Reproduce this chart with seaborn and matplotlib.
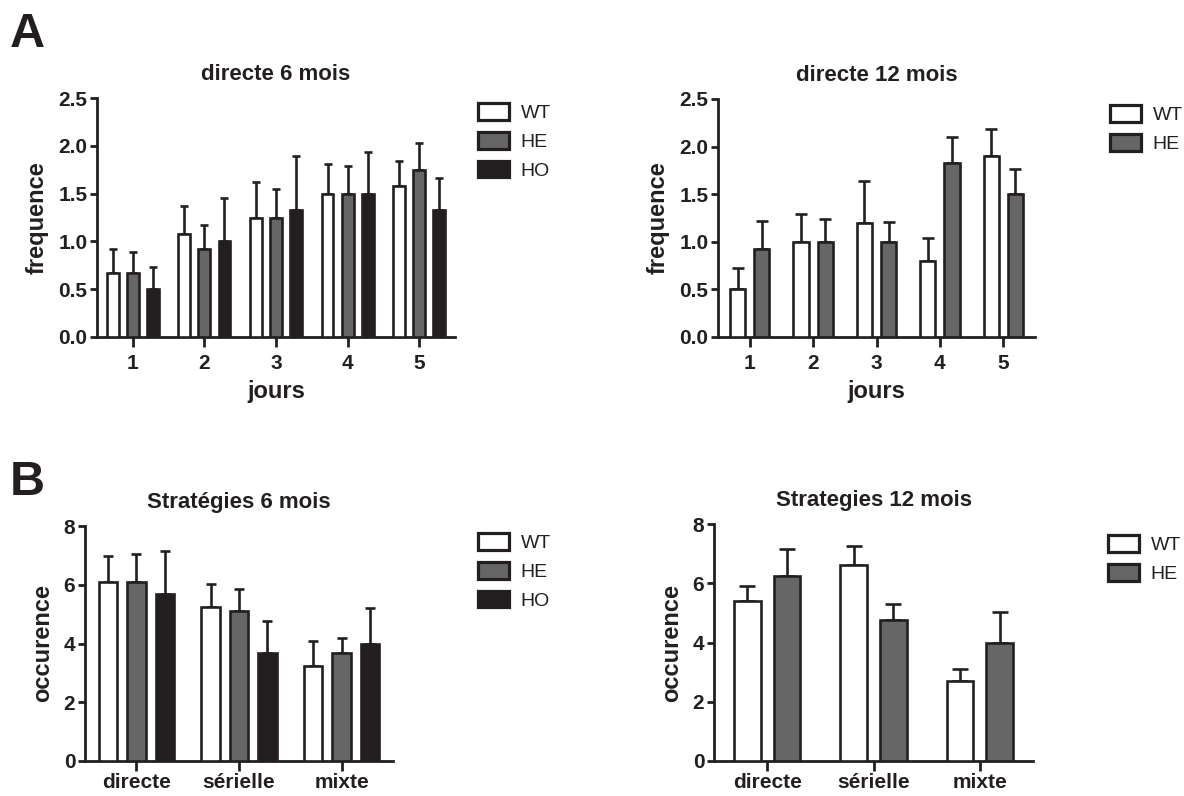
import numpy as np
import pandas as pd
import matplotlib
matplotlib.use("Agg")
import matplotlib.pyplot as plt
from matplotlib.patches import Patch
import seaborn as sns

# =============================================================================
# DATA (means and upper SEM)
# =============================================================================

DAYS = ['1', '2', '3', '4', '5']
STRATS = ['directe', 'sérielle', 'mixte']

A6_WT = [0.67, 1.08, 1.25, 1.50, 1.58]
A6_WT_ERR = [0.25, 0.29, 0.37, 0.31, 0.26]
A6_HE = [0.67, 0.92, 1.25, 1.50, 1.75]
A6_HE_ERR = [0.22, 0.25, 0.30, 0.29, 0.28]
A6_HO = [0.50, 1.00, 1.33, 1.50, 1.33]
A6_HO_ERR = [0.23, 0.45, 0.56, 0.43, 0.33]

A12_WT = [0.50, 1.00, 1.20, 0.80, 1.90]
A12_WT_ERR = [0.22, 0.29, 0.44, 0.24, 0.28]
A12_HE = [0.92, 1.00, 1.00, 1.83, 1.50]
A12_HE_ERR = [0.30, 0.24, 0.21, 0.27, 0.26]

B6_WT = [6.10, 5.25, 3.25]
B6_WT_ERR = [0.87, 0.79, 0.82]
B6_HE = [6.10, 5.10, 3.67]
B6_HE_ERR = [0.96, 0.77, 0.52]
B6_HO = [5.67, 3.67, 4.00]
B6_HO_ERR = [1.48, 1.10, 1.22]

B12_WT = [5.40, 6.60, 2.70]
B12_WT_ERR = [0.52, 0.66, 0.41]
B12_HE = [6.25, 4.75, 4.00]
B12_HE_ERR = [0.91, 0.55, 1.04]

# =============================================================================
# STYLE
# =============================================================================

DARK = '#231F20'
COLORS = {'WT': '#FFFFFF', 'HE': '#666666', 'HO': DARK}
FONT = ['Liberation Sans', 'DejaVu Sans']
LW = 1.9

sns.set_theme(style="ticks")
plt.rcParams['font.family'] = FONT
plt.rcParams['axes.linewidth'] = 2.0
plt.rcParams['xtick.major.width'] = 2.0
plt.rcParams['ytick.major.width'] = 2.0
plt.rcParams['xtick.major.size'] = 7
plt.rcParams['ytick.major.size'] = 5
plt.rcParams['xtick.major.pad'] = 5
plt.rcParams['ytick.major.pad'] = 2
plt.rcParams['axes.edgecolor'] = DARK
plt.rcParams['xtick.color'] = DARK
plt.rcParams['ytick.color'] = DARK
plt.rcParams['text.color'] = DARK
plt.rcParams['axes.labelcolor'] = DARK


def make_df(cats, series):
    rows = []
    for grp, (vals, errs) in series.items():
        for c, v, e in zip(cats, vals, errs):
            rows.append({'cat': c, 'val': v, 'err': e, 'group': grp})
    return pd.DataFrame(rows)


def draw_panel(ax, cats, series, title, ylim, yticks, yfmt, ylabel, xlabel,
               width, gap, capsize, legend_xy, xpad=5):
    df = make_df(cats, series)
    groups = list(series.keys())
    sns.barplot(data=df, x='cat', y='val', hue='group', order=cats,
                hue_order=groups, palette=COLORS, width=width, gap=gap,
                edgecolor=DARK, linewidth=LW, saturation=1, errorbar=None,
                legend=False, ax=ax, zorder=3)

    # upper-only SEM bars on top of each bar
    for cont, grp in zip(ax.containers, groups):
        sub = df[df['group'] == grp].set_index('cat').loc[cats]
        xs = [p.get_x() + p.get_width() / 2 for p in cont.patches]
        ax.errorbar(xs, sub['val'].values,
                    yerr=[np.zeros(len(xs)), sub['err'].values],
                    fmt='none', ecolor=DARK, elinewidth=LW, capsize=capsize,
                    capthick=LW, zorder=2)

    ax.set_xlim(-0.5, len(cats) - 0.5)
    ax.set_ylim(*ylim)
    ax.set_yticks(yticks)
    ax.set_yticklabels([yfmt.format(t) for t in yticks])
    sns.despine(ax=ax)
    ax.set_title(title, fontsize=16, fontweight='bold', pad=13)
    ax.set_ylabel(ylabel, fontsize=17, fontweight='bold', labelpad=7)
    ax.set_xlabel(xlabel, fontsize=17, fontweight='bold', labelpad=5)
    ax.tick_params(axis='both', labelsize=15)
    ax.tick_params(axis='x', pad=xpad)
    for lab in ax.get_xticklabels() + ax.get_yticklabels():
        lab.set_fontweight('bold')

    handles = [Patch(facecolor=COLORS[g], edgecolor=DARK, linewidth=LW + 0.4,
                     label=g) for g in groups]
    leg = ax.legend(handles=handles, loc='upper left',
                    bbox_to_anchor=legend_xy, bbox_transform=ax.figure.transFigure,
                    frameon=False, fontsize=14, handlelength=1.6,
                    handleheight=0.95, labelspacing=0.5, handletextpad=0.6,
                    borderpad=0, borderaxespad=0)
    for t in leg.get_texts():
        t.set_fontweight('normal')


fig = plt.figure(figsize=(11.84, 7.96), dpi=100)
W, H = 1184, 796


def px_axes(x0, y0, x1, y1):
    return fig.add_axes([x0 / W, 1 - y1 / H, (x1 - x0) / W, (y1 - y0) / H])


ax_a6 = px_axes(97, 98, 455, 337)
ax_a12 = px_axes(718, 99, 1035, 337)
ax_b6 = px_axes(85, 526, 393, 761)
ax_b12 = px_axes(714, 524, 1033, 761)

draw_panel(ax_a6, DAYS,
           {'WT': (A6_WT, A6_WT_ERR), 'HE': (A6_HE, A6_HE_ERR), 'HO': (A6_HO, A6_HO_ERR)},
           'directe 6 mois', (0, 2.5), [0, 0.5, 1.0, 1.5, 2.0, 2.5], '{:.1f}',
           'frequence', 'jours', 0.84, 0.41, 3.0, (478 / W, 1 - 103 / H))
draw_panel(ax_a12, DAYS,
           {'WT': (A12_WT, A12_WT_ERR), 'HE': (A12_HE, A12_HE_ERR)},
           'directe 12 mois', (0, 2.5), [0, 0.5, 1.0, 1.5, 2.0, 2.5], '{:.1f}',
           'frequence', 'jours', 0.76, 0.37, 4.0, (1110 / W, 1 - 105 / H))
draw_panel(ax_b6, STRATS,
           {'WT': (B6_WT, B6_WT_ERR), 'HE': (B6_HE, B6_HE_ERR), 'HO': (B6_HO, B6_HO_ERR)},
           'Stratégies 6 mois', (0, 8), [0, 2, 4, 6, 8], '{:.0f}',
           'occurence', '', 0.83, 0.35, 3.5, (478 / W, 1 - 533 / H), xpad=2)
draw_panel(ax_b12, STRATS,
           {'WT': (B12_WT, B12_WT_ERR), 'HE': (B12_HE, B12_HE_ERR)},
           'Strategies 12 mois', (0, 8), [0, 2, 4, 6, 8], '{:.0f}',
           'occurence', '', 0.75, 0.33, 5.5, (1108 / W, 1 - 535 / H), xpad=2)

fig.text(10 / W, 1 - 12 / H, 'A', fontsize=35, fontweight='bold', va='top', ha='left')
fig.text(10 / W, 1 - 460 / H, 'B', fontsize=35, fontweight='bold', va='top', ha='left')

fig.savefig('out.png', dpi=100)
